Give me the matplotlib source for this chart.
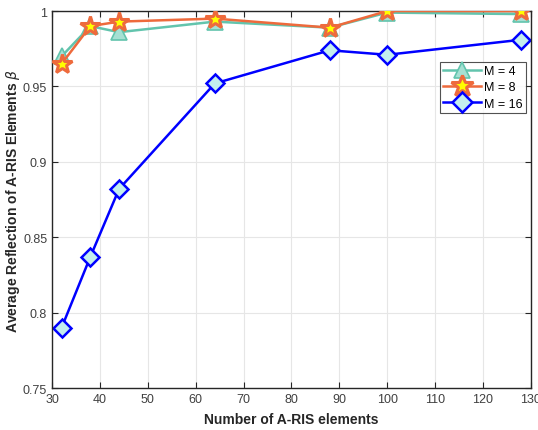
import matplotlib
matplotlib.use("Agg")
import matplotlib.pyplot as plt

plt.rcParams['font.family'] = ['Liberation Sans', 'DejaVu Sans']

n_elements = [32, 38, 44, 64, 88, 100, 128]
beta_m4 = [0.970, 0.990, 0.986, 0.993, 0.989, 0.999, 0.998]
beta_m8 = [0.965, 0.990, 0.993, 0.995, 0.989, 1.000, 1.000]
beta_m16 = [0.790, 0.837, 0.882, 0.952, 0.974, 0.971, 0.981]
labels = ['M = 4', 'M = 8', 'M = 16']
x_ticks = [30, 40, 50, 60, 70, 80, 90, 100, 110, 120, 130]
y_ticks = [0.75, 0.8, 0.85, 0.9, 0.95, 1.0]
y_ticklabels = ['0.75', '0.8', '0.85', '0.9', '0.95', '1']

fig = plt.figure(figsize=(5.38, 4.31), dpi=100)
ax = fig.add_axes([0.0967, 0.0974, 0.890, 0.8746])

ax.plot(n_elements, beta_m4, color='#62c4ad', lw=1.8, marker='^', ms=11,
        mfc='#a6e0d3', mec='#62c4ad', mew=1.2, label=labels[0], zorder=3)
ax.plot(n_elements, beta_m8, color='#ee6a3c', lw=1.8, marker='*', ms=15,
        mfc='#ffff00', mec='#ee6a3c', mew=2.2, label=labels[1], zorder=4)
ax.plot(n_elements, beta_m16, color='#0000ff', lw=1.8, marker='D', ms=9,
        mfc='#c4eeee', mec='#0000ff', mew=1.8, label=labels[2], zorder=2)

ax.set_xlim(30, 130)
ax.set_ylim(0.75, 1.0)
ax.set_xticks(x_ticks)
ax.set_yticks(y_ticks)
ax.set_yticklabels(y_ticklabels)
ax.tick_params(direction='in', labelsize=9, colors='#262626', length=4,
               top=True, right=True, labelcolor='#404040')
ax.grid(True, color='#e6e6e6', lw=0.8)
for s in ax.spines.values():
    s.set_color('#262626')
    s.set_linewidth(1.0)

ax.set_xlabel('Number of A-RIS elements', fontsize=10, fontweight='bold', color='#262626', labelpad=5)
ax.set_ylabel(r'Average Reflection of A-RIS Elements $\beta$', fontsize=10, fontweight='bold',
              color='#262626', labelpad=1)

leg = ax.legend(loc='upper right', bbox_to_anchor=(0.99, 0.865), fontsize=9,
                frameon=True, fancybox=False, edgecolor='#262626', borderpad=0.25,
                handlelength=3.0, handletextpad=0.3, labelspacing=0.35, borderaxespad=0,
                markerscale=1.1)
leg.get_frame().set_linewidth(0.8)

fig.savefig('out.png', dpi=100)
